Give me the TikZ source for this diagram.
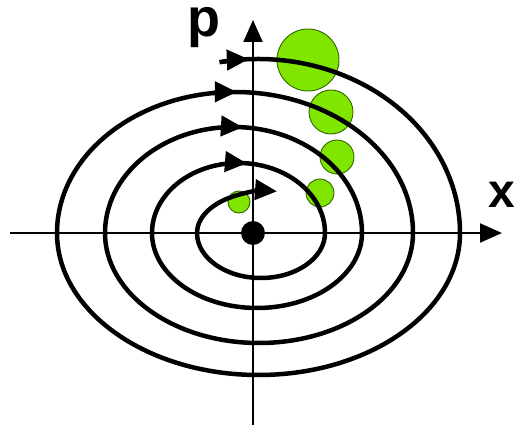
\documentclass[tikz,border=0pt]{standalone}
\usepackage{fontspec}
\setmainfont{Liberation Sans}
\usetikzlibrary{arrows.meta}
\definecolor{blobgreen}{RGB}{128,230,0}
\definecolor{blobedge}{RGB}{50,100,0}
\begin{document}
\begin{tikzpicture}[x=1pt,y=1pt,
  traj/.style={line width=4.5pt, line cap=butt, line join=round},
  tipped/.style={-{Triangle[length=22pt,width=20pt]}},
  blob/.style={fill=blobgreen, draw=blobedge, line width=0.9pt},
  axisline/.style={line width=2.2pt, -{Triangle[length=22pt,width=19pt]}},
  lbl/.style={font=\bfseries, inner sep=0pt, anchor=base}]
\useasboundingbox (-253,-192) rectangle (263,233);
% phase-space blobs
\draw[blob] (55,173) circle (31);
\draw[blob] (78,121) circle (22);
\draw[blob] (84,76) circle (17);
\draw[blob] (67,40) circle (14);
\draw[blob] (-14,31) circle (11);
% axes
\coordinate (xstart) at (-243,0);
\coordinate (xend) at (249,0);
\coordinate (pstart) at (0,-192);
\coordinate (pend) at (0,213);
\draw[axisline] (xstart) -- (xend);
\draw[axisline] (pstart) -- (pend);
\fill (0,0) circle (12);
% labels
\node[lbl, font=\bfseries\fontsize{54}{54}\selectfont] (plabel) at (-49,196) {p};
\node[lbl, font=\bfseries\fontsize{48}{48}\selectfont] (xlabel) at (249,25) {x};
% spiral trajectory (clockwise, inward), one continuous line
\draw[traj,tipped] ([shift={(101:202 and 174)}]5,0) coordinate (s0)
  arc[start angle=101, end angle=0, x radius=202, y radius=174]
  arc[start angle=0, end angle=-180, x radius=201.5, y radius=142]
  arc[start angle=180, end angle=0, x radius=178, y radius=141]
  arc[start angle=0, end angle=-180, x radius=154, y radius=110]
  arc[start angle=180, end angle=0, x radius=128.5, y radius=106]
  arc[start angle=0, end angle=-180, x radius=105, y radius=75]
  arc[start angle=180, end angle=0, x radius=86.5, y radius=70]
  arc[start angle=0, end angle=-180, x radius=64, y radius=45]
  arc[start angle=180, end angle=82.7, x radius=71, y radius=42] coordinate (s5);
% direction arrowheads on the outer turns
\draw[traj,tipped] ([shift={(100:202 and 174)}]5,0)
  arc[start angle=100, end angle=92.6, x radius=202, y radius=174];
\draw[traj,tipped] ([shift={(97:178 and 141)}]-18,0)
  arc[start angle=97, end angle=89.4, x radius=178, y radius=141];
\draw[traj,tipped] ([shift={(95:128.5 and 106)}]-19.5,0)
  arc[start angle=95, end angle=85.8, x radius=128.5, y radius=106];
\draw[traj,tipped] ([shift={(98:86.5 and 70)}]-14.5,0)
  arc[start angle=98, end angle=84.4, x radius=86.5, y radius=70];
\end{tikzpicture}
\end{document}
